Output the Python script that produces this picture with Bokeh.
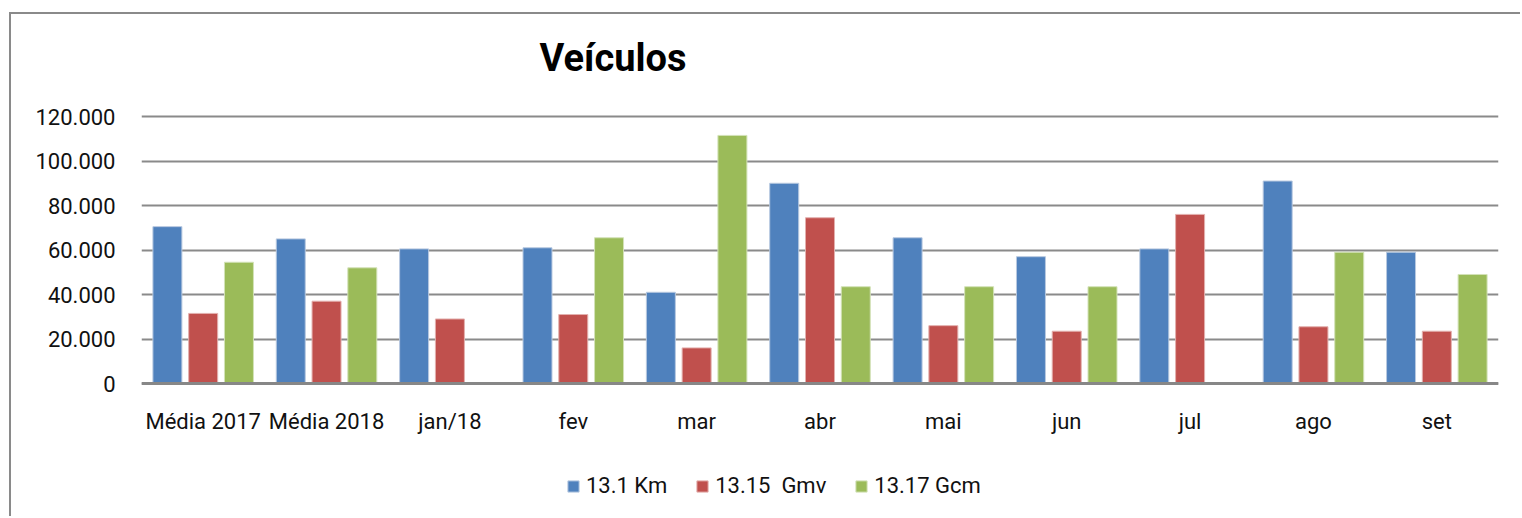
import math
from bokeh.plotting import figure
from bokeh.models import (ColumnDataSource, FactorRange, FixedTicker, CustomJSTickFormatter,
                          Legend, LegendItem, Title, Range1d)
from bokeh.transform import dodge
from bokeh.embed import file_html
from bokeh.resources import INLINE

categories = ["Média 2017", "Média 2018", "jan/18", "fev", "mar", "abr", "mai", "jun", "jul", "ago", "set"]
km_13_1 = [70500, 65000, 60500, 61000, 41000, 90000, 65500, 57000, 60500, 91000, 59000]
gmv_13_15 = [31500, 37000, 29000, 31000, 16000, 74500, 26000, 23500, 76000, 25500, 23500]
gcm_13_17 = [54500, 52000, None, 65500, 111500, 43500, 43500, 43500, None, 59000, 49000]
series_names = ["13.1 Km", "13.15  Gmv", "13.17 Gcm"]
y_ticks = [0, 20000, 40000, 60000, 80000, 100000, 120000]

colors = ["#4F81BD", "#C0504D", "#9BBB59"]

def nz(v):
    return [float("nan") if x is None else x for x in v]

src = ColumnDataSource(data=dict(cat=categories, km=nz(km_13_1), gmv=nz(gmv_13_15), gcm=nz(gcm_13_17)))

W, H = 1511, 504
TOP = 82
# value axis: 120000 units span 267 px; frame extends 20 px above the top tick and 135 px below zero
upp = 120000 / 267.0
y_end = 120000 + 20 * upp
y_start = -135 * upp

p = figure(x_range=FactorRange(factors=categories, range_padding=0), y_range=Range1d(y_start, y_end),
           width=W, height=H, output_backend="svg", toolbar_location=None,
           min_border_left=130, min_border_right=24, min_border_top=TOP, min_border_bottom=0)

p.styles = {"border-top": "2px solid #8a8a8a", "border-left": "2px solid #8a8a8a",
            "margin-top": "12px", "margin-left": "9px"}

bw = 0.235
off = 0.29
r1 = p.vbar(x=dodge("cat", -off, range=p.x_range), top="km", width=bw, source=src,
            fill_color=colors[0], line_color="#b8c9e0", line_width=1)
r2 = p.vbar(x=dodge("cat", 0, range=p.x_range), top="gmv", width=bw, source=src,
            fill_color=colors[1], line_color="#e3b0ae", line_width=1)
r3 = p.vbar(x=dodge("cat", off, range=p.x_range), top="gcm", width=bw, source=src,
            fill_color=colors[2], line_color="#d3e2b8", line_width=1)

p.outline_line_color = None
p.background_fill_color = "white"
p.border_fill_color = "white"

p.xgrid.grid_line_color = None
p.ygrid.grid_line_color = "#8a8a8a"
p.ygrid.grid_line_width = 2
p.ygrid.ticker = FixedTicker(ticks=y_ticks)

p.yaxis.ticker = FixedTicker(ticks=y_ticks)
p.yaxis.formatter = CustomJSTickFormatter(code="""
    if (tick == 0) return '0';
    return (tick/1000).toFixed(0) + '.000';
""")
p.yaxis.axis_line_color = None
p.yaxis.major_tick_line_color = None
p.yaxis.minor_tick_line_color = None
p.yaxis.major_label_standoff = 20

p.xaxis.fixed_location = 0
p.xaxis.axis_line_color = "#878787"
p.xaxis.axis_line_width = 3
p.xaxis.major_tick_line_color = None
p.xaxis.minor_tick_line_color = None
p.xaxis.major_label_standoff = 19

for ax in (p.xaxis[0], p.yaxis[0]):
    ax.major_label_text_font = "Roboto"
    ax.major_label_text_font_size = "22px"
    ax.major_label_text_color = "#111111"

title = Title(text="Veículos", align="left", offset=398, standoff=34,
              text_font="Roboto", text_font_size="38px", text_font_style="bold",
              text_color="#000000")
p.add_layout(title, "above")

legend = Legend(items=[LegendItem(label=series_names[0], renderers=[r1]),
                       LegendItem(label=series_names[1], renderers=[r2]),
                       LegendItem(label=series_names[2], renderers=[r3])],
                orientation="horizontal", location=(425, 20),
                glyph_width=14, glyph_height=14, label_standoff=6, spacing=28,
                padding=0, margin=0, border_line_color=None, background_fill_alpha=0,
                label_text_font="Roboto", label_text_font_size="22px", label_text_color="#111111")
p.add_layout(legend, "center")

open("out.html", "w").write(file_html(p, INLINE))
